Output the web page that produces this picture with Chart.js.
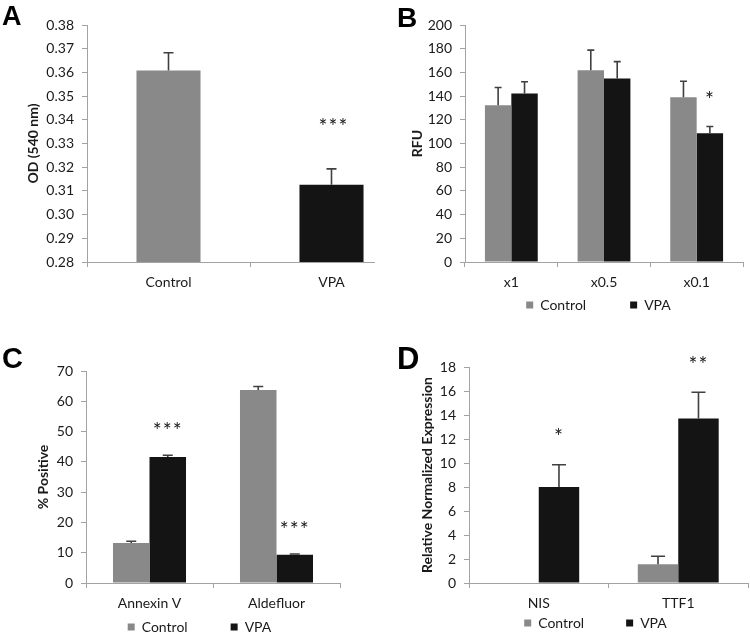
<!DOCTYPE html>
<html>
<head>
<meta charset="utf-8">
<script src="https://cdn.jsdelivr.net/npm/chart.js@4"></script>
<style>
  html, body { margin: 0; padding: 0; background: #fff; overflow: hidden; width: 750px; height: 637px; }
  .box { position: absolute; overflow: hidden; }
  canvas { position: absolute; left: 0; top: 0; }
</style>
</head>
<body>
<div class="box" style="left:0;top:0;width:375px;height:300px;"><canvas id="cA" width="430" height="300"></canvas></div>
<div class="box" style="left:375px;top:0;width:375px;height:358px;"><canvas id="cB" width="375" height="358"></canvas></div>
<div class="box" style="left:0;top:320px;width:375px;height:358px;"><canvas id="cC" width="375" height="358"></canvas></div>
<div class="box" style="left:375px;top:320px;width:375px;height:357px;"><canvas id="cD" width="375" height="357"></canvas></div>
<script>
// ---------------- DATA ----------------
const seriesNames = ['Control', 'VPA'];

// Panel A
const categoriesA = ['Control', 'VPA'];
const valuesA = [0.3608, 0.3126];
const errorsA = [0.0075, 0.0067];
const starsA = ['', '***'];
const yAxisA = { min: 0.28, max: 0.38, step: 0.01, decimals: 2, title: 'OD (540 nm)' };

// Panel B
const categoriesB = ['x1', 'x0.5', 'x0.1'];
const controlB = [132.3, 161.8, 139.0];
const controlErrB = [15.0, 17.0, 13.5];
const vpaB = [142.1, 154.8, 108.7];
const vpaErrB = [10.0, 14.3, 5.6];
const starsB = ['', '', '*'];
const yAxisB = { min: 0, max: 200, step: 20, decimals: 0, title: 'RFU' };

// Panel C
const categoriesC = ['Annexin V', 'Aldefluor'];
const controlC = [13.2, 63.7];
const controlErrC = [0.6, 1.2];
const vpaC = [41.6, 9.3];
const vpaErrC = [0.6, 0.3];
const starsC = ['***', '***'];
const yAxisC = { min: 0, max: 70, step: 10, decimals: 0, title: '% Positive' };

// Panel D
const categoriesD = ['NIS', 'TTF1'];
const controlD = [0, 1.56];
const controlErrD = [0, 0.67];
const vpaD = [8.0, 13.7];
const vpaErrD = [1.86, 2.2];
const starsD = ['*', '**'];
const yAxisD = { min: 0, max: 18, step: 2, decimals: 0, title: 'Relative Normalized Expression' };

// ---------------- STYLE ----------------
const CONTROL_COLOR = '#898989';
const VPA_COLOR = '#141414';
const AXIS_COLOR = '#a3a3a3';
const TEXT_COLOR = '#1a1a1a';
const FONT = 'Lato, "Open Sans", sans-serif';
const STAR_FONT = '21px Lato, sans-serif';

Chart.defaults.font.family = FONT;
Chart.defaults.font.size = 14;
Chart.defaults.color = TEXT_COLOR;

// ---------------- PLUGINS ----------------
const errorBarPlugin = {
  id: 'errorBars',
  afterDatasetsDraw(chart, args, opts) {
    const ctx = chart.ctx, ys = chart.scales.y;
    chart.data.datasets.forEach((ds, di) => {
      if (!ds.errors) return;
      const meta = chart.getDatasetMeta(di);
      meta.data.forEach((bar, i) => {
        const v = ds.data[i], e = ds.errors[i];
        if (!e) return;
        const yTop = ys.getPixelForValue(v + e);
        const yBase = ys.getPixelForValue(v);
        ctx.save();
        ctx.strokeStyle = opts.color;
        ctx.lineWidth = opts.width;
        ctx.beginPath();
        ctx.moveTo(bar.x, yBase);
        ctx.lineTo(bar.x, yTop);
        ctx.moveTo(bar.x - opts.cap / 2, yTop);
        ctx.lineTo(bar.x + opts.cap / 2, yTop);
        ctx.stroke();
        ctx.restore();
      });
    });
  }
};

const starPlugin = {
  id: 'stars',
  afterDatasetsDraw(chart, args, opts) {
    const ctx = chart.ctx, ys = chart.scales.y;
    chart.data.datasets.forEach((ds, di) => {
      if (!ds.stars) return;
      const meta = chart.getDatasetMeta(di);
      meta.data.forEach((bar, i) => {
        const s = ds.stars[i];
        if (!s) return;
        const top = ys.getPixelForValue(ds.data[i] + (ds.errors ? ds.errors[i] : 0));
        ctx.save();
        ctx.font = opts.font;
        if ('letterSpacing' in ctx) ctx.letterSpacing = opts.spacing || '0px';
        ctx.fillStyle = TEXT_COLOR;
        ctx.textAlign = 'center';
        ctx.textBaseline = 'middle';
        ctx.fillText(s, bar.x + (opts.dx || 0), top - opts.gap);
        ctx.restore();
      });
    });
  }
};

const panelLabelPlugin = {
  id: 'panelLabel',
  afterDraw(chart, args, opts) {
    if (!opts || !opts.text) return;
    const ctx = chart.ctx;
    ctx.save();
    ctx.font = opts.font;
    ctx.fillStyle = '#000';
    ctx.textAlign = 'left';
    ctx.textBaseline = 'alphabetic';
    ctx.fillText(opts.text, opts.x, opts.y);
    ctx.restore();
  }
};

const legendShiftPlugin = {
  id: 'legendShift',
  afterLayout(chart, args, opts) {
    const l = chart.legend;
    if (!l || !opts) return;
    const dx = opts.dx || 0, dy = opts.dy || 0;
    l.left += dx; l.right += dx; l.top += dy; l.bottom += dy;
  }
};

Chart.register(errorBarPlugin, starPlugin, panelLabelPlugin, legendShiftPlugin);

// ---------------- BUILDERS ----------------
function yScale(ax, width, titlePad) {
  return {
    min: ax.min, max: ax.max,
    ticks: { stepSize: ax.step, padding: 8, color: TEXT_COLOR, font: { size: 14 },
      callback: v => Number(v).toFixed(ax.decimals) },
    grid: { drawOnChartArea: false, drawTicks: true, tickLength: 5, color: AXIS_COLOR },
    border: { display: true, color: AXIS_COLOR, width: 1 },
    title: { display: true, text: ax.title, color: TEXT_COLOR,
      font: { size: 14, weight: 'bold' }, padding: { top: titlePad, bottom: 0 } },
    afterFit: s => { s.width = width; }
  };
}
function xScale(height) {
  return {
    grid: { display: true, drawOnChartArea: false, drawTicks: true, tickLength: 5, color: AXIS_COLOR, offset: true },
    border: { display: true, color: AXIS_COLOR, width: 1 },
    ticks: { padding: 7, color: TEXT_COLOR, font: { size: 14 }, maxRotation: 0, autoSkip: false },
    afterFit: s => { s.height = height; }
  };
}
function legendOpts(pad) {
  return {
    display: true, position: 'bottom', fullSize: false,
    labels: { boxWidth: 7, boxHeight: 7, padding: pad, color: TEXT_COLOR, font: { size: 14 } }
  };
}
function baseOptions() {
  return { responsive: false, animation: false, devicePixelRatio: 1,
    events: [], plugins: { tooltip: { enabled: false } } };
}

// Panel A
(function () {
  const o = baseOptions();
  o.layout = { padding: { left: 0, top: 25, right: 17, bottom: 0 } };
  o.scales = { x: xScale(38), y: yScale(yAxisA, 87, 25) };
  o.plugins.legend = { display: false };
  o.plugins.errorBars = { color: '#404040', width: 1.6, cap: 10 };
  o.plugins.stars = { font: STAR_FONT, gap: 42, spacing: '1px', dx: 2 };
  o.plugins.panelLabel = { text: 'A', x: 2, y: 25, font: 'bold 27px "Liberation Sans", Arial, sans-serif' };
  new Chart(document.getElementById('cA'), {
    type: 'bar',
    data: { labels: categoriesA, datasets: [{
      data: valuesA, errors: errorsA, stars: starsA,
      backgroundColor: [CONTROL_COLOR, VPA_COLOR], borderWidth: 0,
      barPercentage: 0.393, categoryPercentage: 1
    }] },
    options: o
  });
})();

// Panel B
(function () {
  const o = baseOptions();
  o.layout = { padding: { left: 0, top: 25, right: 7, bottom: 0 } };
  o.scales = { x: xScale(28), y: yScale(yAxisB, 90, 33.6) };
  o.plugins.legend = legendOpts(44);
  o.plugins.legendShift = { dx: -5.5, dy: -36 };
  o.plugins.errorBars = { color: '#404040', width: 1.6, cap: 7 };
  o.plugins.stars = { font: STAR_FONT, gap: 26, spacing: '1px' };
  o.plugins.panelLabel = { text: 'B', x: 22, y: 27, font: 'bold 28px "Liberation Sans", Arial, sans-serif' };
  new Chart(document.getElementById('cB'), {
    type: 'bar',
    data: { labels: categoriesB, datasets: [
      { label: seriesNames[0], data: controlB, errors: controlErrB, backgroundColor: CONTROL_COLOR,
        borderWidth: 0, barPercentage: 1, categoryPercentage: 0.57 },
      { label: seriesNames[1], data: vpaB, errors: vpaErrB, stars: starsB, backgroundColor: VPA_COLOR,
        borderWidth: 0, barPercentage: 1, categoryPercentage: 0.57 }
    ] },
    options: o
  });
})();

// Panel C
(function () {
  const o = baseOptions();
  o.layout = { padding: { left: 0, top: 51, right: 35, bottom: 0 } };
  o.scales = { x: xScale(28), y: yScale(yAxisC, 86, 34.6) };
  o.plugins.legend = legendOpts(43);
  o.plugins.legendShift = { dx: -13.5, dy: -34 };
  o.plugins.errorBars = { color: '#404040', width: 1.6, cap: 10 };
  o.plugins.stars = { font: STAR_FONT, gap: 24, spacing: '1px' };
  o.plugins.panelLabel = { text: 'C', x: 2, y: 48, font: 'bold 29px "Liberation Sans", Arial, sans-serif' };
  new Chart(document.getElementById('cC'), {
    type: 'bar',
    data: { labels: categoriesC, datasets: [
      { label: seriesNames[0], data: controlC, errors: controlErrC, backgroundColor: CONTROL_COLOR,
        borderWidth: 0, barPercentage: 1, categoryPercentage: 0.575 },
      { label: seriesNames[1], data: vpaC, errors: vpaErrC, stars: starsC, backgroundColor: VPA_COLOR,
        borderWidth: 0, barPercentage: 1, categoryPercentage: 0.575 }
    ] },
    options: o
  });
})();

// Panel D
(function () {
  const o = baseOptions();
  o.layout = { padding: { left: 0, top: 47, right: 2, bottom: 0 } };
  o.scales = { x: xScale(28), y: yScale(yAxisD, 94, 44) };
  o.plugins.legend = legendOpts(42);
  o.plugins.legendShift = { dx: -13, dy: -37 };
  o.plugins.errorBars = { color: '#404040', width: 1.6, cap: 14 };
  o.plugins.stars = { font: STAR_FONT, gap: 27, spacing: '1px' };
  o.plugins.panelLabel = { text: 'D', x: 22, y: 49, font: 'bold 31px "Liberation Sans", Arial, sans-serif' };
  new Chart(document.getElementById('cD'), {
    type: 'bar',
    data: { labels: categoriesD, datasets: [
      { label: seriesNames[0], data: controlD, errors: controlErrD, backgroundColor: CONTROL_COLOR,
        borderWidth: 0, barPercentage: 1, categoryPercentage: 0.58 },
      { label: seriesNames[1], data: vpaD, errors: vpaErrD, stars: starsD, backgroundColor: VPA_COLOR,
        borderWidth: 0, barPercentage: 1, categoryPercentage: 0.58 }
    ] },
    options: o
  });
})();
</script>
</body>
</html>
